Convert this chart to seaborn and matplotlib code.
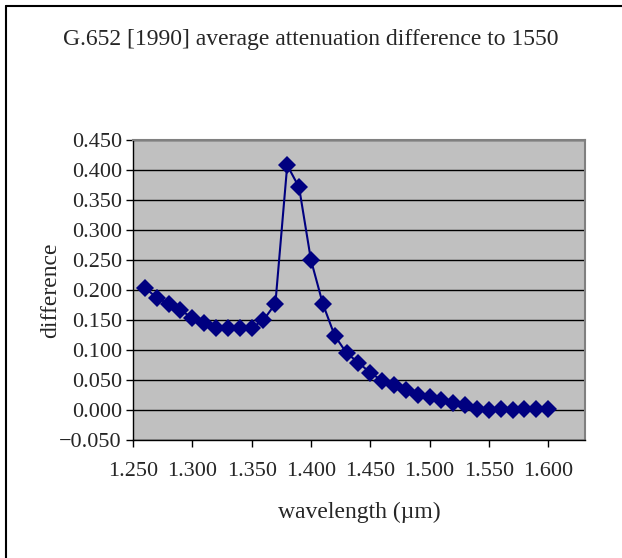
import numpy as np
import pandas as pd
import seaborn as sns
import matplotlib as mpl
import matplotlib.pyplot as plt
from matplotlib.lines import Line2D
from matplotlib.ticker import FuncFormatter

# wavelength in um, attenuation difference to 1550 nm
wavelength = [1.26, 1.27, 1.28, 1.29, 1.30, 1.31, 1.32, 1.33, 1.34, 1.35,
              1.36, 1.37, 1.38, 1.39, 1.40, 1.41, 1.42, 1.43, 1.44, 1.45,
              1.46, 1.47, 1.48, 1.49, 1.50, 1.51, 1.52, 1.53, 1.54, 1.55,
              1.56, 1.57, 1.58, 1.59, 1.60]
difference = [0.204, 0.187, 0.177, 0.166, 0.154, 0.145, 0.137, 0.137, 0.137, 0.137,
              0.150, 0.177, 0.408, 0.371, 0.250, 0.177, 0.124, 0.095, 0.079, 0.062,
              0.049, 0.042, 0.033, 0.025, 0.022, 0.016, 0.012, 0.008, 0.002, 0.000,
              0.002, 0.000, 0.002, 0.002, 0.002]
x_ticks = [1.25, 1.30, 1.35, 1.40, 1.45, 1.50, 1.55, 1.60]
y_ticks = [-0.05, 0.0, 0.05, 0.10, 0.15, 0.20, 0.25, 0.30, 0.35, 0.40, 0.45]

df = pd.DataFrame({"wavelength": wavelength, "difference": difference})

sns.set_style("white")
plt.rcParams['font.family'] = ['Liberation Serif', 'DejaVu Serif']
mpl.rc('font', size=16)

W, H = 622, 558
fig = plt.figure(figsize=(W / 100, H / 100), dpi=100)
ax = fig.add_axes([133 / W, (H - 440) / H, (585 - 133) / W, 300 / H])
ax.set_facecolor("#C0C0C0")

sns.lineplot(data=df, x="wavelength", y="difference", ax=ax, color="#000080",
             linewidth=1.5, marker="D", markersize=9, markeredgewidth=0,
             zorder=3)

ax.set_xlim(1.25, 1.631)
ax.set_ylim(-0.05, 0.45)
ax.set_xticks(x_ticks)
ax.set_yticks(y_ticks)
fmt = FuncFormatter(lambda v, p: "{0:.3f}".format(v).replace("-", "\u2212"))
ax.xaxis.set_major_formatter(fmt)
ax.yaxis.set_major_formatter(fmt)
ax.grid(axis="y", color="black", linewidth=1.0)
ax.set_axisbelow(True)
ax.tick_params(axis="both", direction="out", length=5, width=1, color="black",
               labelsize=16, pad=3, bottom=True, left=True)
ax.tick_params(axis="x", pad=11)

for side in ["top", "right"]:
    ax.spines[side].set_color("#808080")
    ax.spines[side].set_linewidth(1.5)
for side in ["left", "bottom"]:
    ax.spines[side].set_color("black")
    ax.spines[side].set_linewidth(1.0)

ax.set_xlabel("wavelength (\u00b5m)", fontsize=17, labelpad=15)
ax.set_ylabel("difference", fontsize=17, labelpad=-1)
fig.text(0.5, 1 - 40 / H, "G.652 [1990] average attenuation difference to 1550",
         ha="center", va="center", fontsize=17)

# chart area frame (left and top edges only, as in the source)
fig.add_artist(Line2D([5.5 / W, 5.5 / W], [0, 1 - 6 / H], transform=fig.transFigure,
                      color="black", linewidth=1.5))
fig.add_artist(Line2D([5.5 / W, 1], [1 - 6 / H, 1 - 6 / H], transform=fig.transFigure,
                      color="black", linewidth=1.5))

fig.savefig("out.png", dpi=100)
